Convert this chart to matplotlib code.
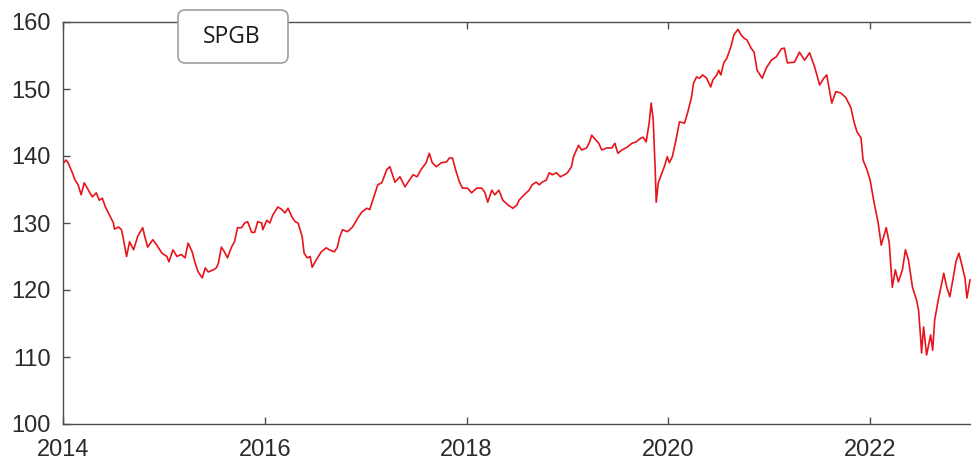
import matplotlib
matplotlib.use("Agg")
import matplotlib.pyplot as plt
from matplotlib.patches import FancyBboxPatch

# SPGB price index (decimal years, price)
years = [
    2014.00, 2014.03, 2014.05, 2014.09, 2014.12, 2014.15, 2014.18, 2014.21, 2014.24, 2014.29,
    2014.33, 2014.36, 2014.39, 2014.42, 2014.46, 2014.50, 2014.51, 2014.55, 2014.58, 2014.60,
    2014.63, 2014.66, 2014.70, 2014.74, 2014.79, 2014.81, 2014.84, 2014.89, 2014.93, 2014.98,
    2015.03, 2015.05, 2015.09, 2015.13, 2015.17, 2015.21, 2015.24, 2015.28, 2015.31, 2015.34,
    2015.38, 2015.41, 2015.44, 2015.49, 2015.52, 2015.54, 2015.57, 2015.60, 2015.63, 2015.67,
    2015.70, 2015.73, 2015.77, 2015.80, 2015.83, 2015.87, 2015.90, 2015.93, 2015.97, 2015.98,
    2016.02, 2016.05, 2016.08, 2016.13, 2016.17, 2016.20, 2016.23, 2016.27, 2016.30, 2016.33,
    2016.37, 2016.39, 2016.42, 2016.45, 2016.47, 2016.51, 2016.56, 2016.61, 2016.64, 2016.69,
    2016.72, 2016.74, 2016.77, 2016.82, 2016.87, 2016.92, 2016.96, 2017.01, 2017.04, 2017.07,
    2017.12, 2017.16, 2017.21, 2017.24, 2017.26, 2017.29, 2017.34, 2017.39, 2017.42, 2017.47,
    2017.51, 2017.55, 2017.60, 2017.63, 2017.66, 2017.70, 2017.75, 2017.80, 2017.83, 2017.86,
    2017.90, 2017.93, 2017.96, 2018.01, 2018.05, 2018.10, 2018.15, 2018.18, 2018.21, 2018.25,
    2018.28, 2018.32, 2018.36, 2018.41, 2018.46, 2018.50, 2018.52, 2018.57, 2018.62, 2018.65,
    2018.69, 2018.72, 2018.75, 2018.79, 2018.82, 2018.85, 2018.89, 2018.93, 2018.97, 2019.00,
    2019.04, 2019.06, 2019.09, 2019.11, 2019.14, 2019.19, 2019.22, 2019.24, 2019.28, 2019.31,
    2019.34, 2019.39, 2019.44, 2019.47, 2019.50, 2019.54, 2019.59, 2019.64, 2019.68, 2019.73,
    2019.75, 2019.78, 2019.81, 2019.83, 2019.85, 2019.87, 2019.88, 2019.90, 2019.93, 2019.96,
    2019.99, 2020.01, 2020.04, 2020.08, 2020.11, 2020.16, 2020.19, 2020.23, 2020.25, 2020.28,
    2020.31, 2020.34, 2020.38, 2020.42, 2020.44, 2020.48, 2020.50, 2020.52, 2020.55, 2020.58,
    2020.62, 2020.65, 2020.69, 2020.72, 2020.75, 2020.78, 2020.82, 2020.85, 2020.88, 2020.93,
    2020.97, 2021.02, 2021.07, 2021.12, 2021.15, 2021.18, 2021.25, 2021.30, 2021.35, 2021.40,
    2021.45, 2021.50, 2021.54, 2021.57, 2021.62, 2021.66, 2021.71, 2021.76, 2021.81, 2021.84,
    2021.87, 2021.91, 2021.93, 2021.97, 2022.00, 2022.04, 2022.08, 2022.11, 2022.16, 2022.19,
    2022.22, 2022.25, 2022.28, 2022.32, 2022.35, 2022.38, 2022.42, 2022.46, 2022.48, 2022.50,
    2022.51, 2022.53, 2022.56, 2022.60, 2022.62, 2022.64, 2022.67, 2022.71, 2022.73, 2022.76,
    2022.79, 2022.82, 2022.85, 2022.88, 2022.91, 2022.94, 2022.96, 2022.99,
]
prices = [
    138.9, 139.4, 139.0, 137.6, 136.4, 135.7, 134.2, 136.0, 135.2, 133.9,
    134.5, 133.4, 133.7, 132.4, 131.2, 130.0, 129.1, 129.4, 129.0, 127.5,
    125.0, 127.2, 126.0, 128.0, 129.3, 128.0, 126.4, 127.5, 126.7, 125.5,
    125.0, 124.2, 126.0, 125.0, 125.3, 124.8, 127.0, 125.7, 124.0, 122.7,
    121.8, 123.3, 122.7, 123.0, 123.3, 124.0, 126.4, 125.7, 124.8, 126.4,
    127.2, 129.3, 129.3, 130.0, 130.2, 128.6, 128.6, 130.2, 130.0, 129.0,
    130.4, 130.0, 131.2, 132.4, 132.0, 131.5, 132.2, 130.9, 130.2, 130.0,
    128.0, 125.5, 124.8, 125.0, 123.4, 124.5, 125.7, 126.3, 126.0, 125.7,
    126.4, 127.8, 129.0, 128.7, 129.4, 130.7, 131.6, 132.2, 132.0, 133.4,
    135.7, 136.0, 138.0, 138.4, 137.5, 136.1, 136.9, 135.4, 136.1, 137.2,
    136.9, 138.0, 139.0, 140.4, 139.0, 138.4, 139.0, 139.1, 139.7, 139.7,
    137.5, 136.1, 135.2, 135.2, 134.5, 135.2, 135.2, 134.6, 133.1, 134.9,
    134.2, 134.9, 133.4, 132.7, 132.2, 132.7, 133.4, 134.2, 134.9, 135.7,
    136.1, 135.7, 136.1, 136.4, 137.5, 137.2, 137.5, 136.9, 137.2, 137.5,
    138.4, 139.9, 140.9, 141.6, 140.9, 141.2, 142.1, 143.1, 142.4, 141.9,
    140.9, 141.2, 141.2, 141.9, 140.4, 140.9, 141.3, 141.9, 142.1, 142.7,
    142.8, 142.1, 144.9, 147.9, 145.4, 137.9, 133.1, 136.0, 137.2, 138.4,
    139.9, 139.0, 139.9, 142.7, 145.1, 144.9, 146.4, 148.8, 150.9, 151.8,
    151.6, 152.1, 151.6, 150.3, 151.3, 152.1, 152.8, 152.1, 153.9, 154.6,
    156.3, 158.1, 158.9, 158.1, 157.6, 157.3, 156.1, 155.5, 152.8, 151.6,
    153.1, 154.3, 154.8, 156.0, 156.1, 153.9, 154.0, 155.5, 154.3, 155.4,
    153.3, 150.6, 151.6, 152.1, 147.9, 149.6, 149.4, 148.7, 147.2, 145.1,
    143.6, 142.7, 139.4, 137.9, 136.4, 133.0, 130.0, 126.7, 129.3, 127.0,
    120.4, 123.0, 121.2, 123.0, 126.0, 124.5, 120.4, 118.5, 117.0, 113.0,
    110.6, 114.5, 110.3, 113.3, 111.0, 115.5, 118.1, 121.0, 122.5, 120.4,
    119.0, 121.5, 124.2, 125.5, 123.7, 121.8, 118.8, 121.5,
]
x_ticks = [2014, 2016, 2018, 2020, 2022]
y_ticks = [100, 110, 120, 130, 140, 150, 160]
label = "SPGB"

plt.rcParams['font.family'] = ['Liberation Sans', 'DejaVu Sans']

fig = plt.figure(figsize=(9.71, 4.66), dpi=100)
ax = fig.add_axes([63 / 971, 42 / 466, 1 - 63 / 971, 402 / 466])

ax.plot(years, prices, color='#e8141c', linewidth=1.2)

ax.set_xlim(2014, 2023)
ax.set_ylim(100, 160)
ax.set_xticks(x_ticks)
ax.set_xticklabels([str(t) for t in x_ticks])
ax.set_yticks(y_ticks)

for s in ax.spines.values():
    s.set_color('#4d4d4d')
    s.set_linewidth(1.0)
ax.spines['right'].set_visible(False)

ax.tick_params(axis='both', direction='in', length=5, width=1, color='#4d4d4d',
               labelsize=17, labelcolor='#2b2b2b')
ax.tick_params(axis='x', top=True, pad=11)
ax.tick_params(axis='y', pad=9)

# rounded label box at the top
box = FancyBboxPatch((178 / 971, 1 - 63 / 466), 110 / 971, 53 / 466,
                     boxstyle="round,pad=0,rounding_size=0.0075",
                     mutation_aspect=971 / 466,
                     transform=fig.transFigure, facecolor='white',
                     edgecolor='#a0a0a0', linewidth=1.2, zorder=5)
fig.patches.append(box)
fig.text(232 / 971, 1 - 37 / 466, label, ha='center', va='center',
         fontsize=16.5, family=['Open Sans', 'DejaVu Sans'], color='#1a1a1a', zorder=6)

fig.savefig("out.png", dpi=100)
